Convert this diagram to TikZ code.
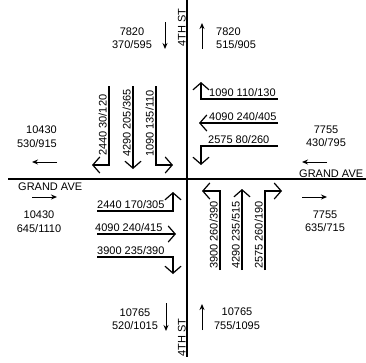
\documentclass[tikz,border=0pt]{standalone}
\usepackage{fontspec}
\setmainfont{Liberation Sans}
\usetikzlibrary{arrows.meta}
\begin{document}
\begin{tikzpicture}[x=1pt,y=-1pt,
  road/.style={line width=1.4pt},
  lane/.style={line width=1.3pt, line join=miter, -{Straight Barb[length=7pt,width=16pt,line width=1.2pt]}},
  flow/.style={line width=1pt, -{Stealth[length=6pt,width=5pt]}},
  vol/.style={font=\fontsize{11}{13.5}\selectfont, inner sep=0pt},
  lbl/.style={font=\fontsize{11}{13}\selectfont, inner sep=0pt},
]
\useasboundingbox (0,0) rectangle (366,362);
% roads
\draw[road] (187,0) -- (187,357);
\draw[road] (8,179) -- (366,179);
% street names
\node[lbl, rotate=90, anchor=base west] (stN) at (185.5,47) {4TH ST};
\node[lbl, rotate=90, anchor=base west] (stS) at (185.5,357) {4TH ST};
\node[lbl, anchor=base west] (avW) at (18,190) {GRAND AVE};
\node[lbl, anchor=base west] (avE) at (299,177) {GRAND AVE};
% volume labels
\node[vol, align=center] (vNW) at (132,38) {7820\\370/595};
\node[vol, align=left, anchor=west] (vNE) at (216,38) {7820\\515/905};
\node[vol, align=right, anchor=east] (vWN) at (57,136.5) {10430\\530/915};
\node[vol, align=center] (vEN) at (326,136.5) {7755\\430/795};
\node[vol, align=center] (vWS) at (39,221.5) {10430\\645/1110};
\node[vol, align=center] (vES) at (325,221.5) {7755\\635/715};
\node[vol, align=center] (vSW) at (135,319) {10765\\520/1015};
\node[vol, align=center] (vSE) at (237,318.5) {10765\\755/1095};
% flow arrows
\draw[flow] (165,22) -- (165,49);
\draw[flow] (202,49) -- (202,23);
\draw[flow] (57,162) -- (32,162);
\draw[flow] (327,162) -- (302,162);
\draw[flow] (32,197) -- (57,197);
\draw[flow] (302,197) -- (327,197);
\draw[flow] (166,303) -- (166,331);
\draw[flow] (202,330) -- (202,304);
% NW: southbound lanes
\draw[lane] (109,86) -- (109,165) -- (92,165);
\draw[lane] (133,86) -- (133,169);
\draw[lane] (156,86) -- (156,165) -- (173,165);
\node[lbl, rotate=90, anchor=base west] (l1) at (106.5,156) {2440 30/120};
\node[lbl, rotate=90, anchor=base west] (l2) at (130.5,157) {4290 205/365};
\node[lbl, rotate=90, anchor=base west] (l3) at (153.5,157) {1090 135/110};
% NE: westbound lanes
\draw[lane] (278,99) -- (201,99) -- (201,82);
\draw[lane] (278,123) -- (199,123);
\draw[lane] (278,146) -- (201,146) -- (201,165);
\node[lbl, anchor=base west] (l4) at (209,96.5) {1090 110/130};
\node[lbl, anchor=base west] (l5) at (209,120.5) {4090 240/405};
\node[lbl, anchor=base west] (l6) at (208,143.5) {2575 80/260};
% SW: eastbound lanes
\draw[lane] (97,211) -- (173,211) -- (173,192);
\draw[lane] (97,234) -- (176,234);
\draw[lane] (97,257) -- (173,257) -- (173,274);
\node[lbl, anchor=base west] (l7) at (97,208.5) {2440 170/305};
\node[lbl, anchor=base west] (l8) at (95,231.5) {4090 240/415};
\node[lbl, anchor=base west] (l9) at (97,254.5) {3900 235/390};
% SE: northbound lanes
\draw[lane] (220,270) -- (220,191) -- (202,191);
\draw[lane] (242,270) -- (242,189);
\draw[lane] (265,270) -- (265,191) -- (282,191);
\node[lbl, rotate=90, anchor=base west] (l10) at (217.5,269) {3900 260/390};
\node[lbl, rotate=90, anchor=base west] (l11) at (239.5,269) {4290 235/515};
\node[lbl, rotate=90, anchor=base west] (l12) at (262.5,269) {2575 260/190};
\end{tikzpicture}
\end{document}
